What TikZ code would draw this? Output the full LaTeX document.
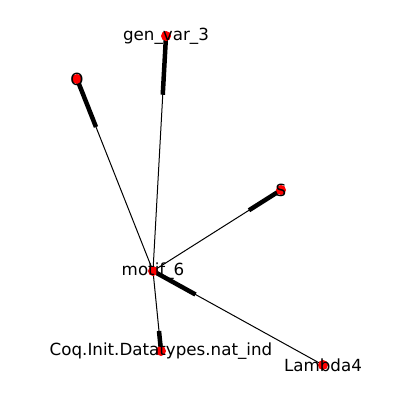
\documentclass[tikz,border=0pt]{standalone}
\usepackage{fontspec}
\setmainfont{DejaVu Sans}
\usetikzlibrary{calc,backgrounds}
\definecolor{nodered}{RGB}{255, 0, 0}

\begin{document}
\begin{tikzpicture}[x=1pt, y=-1pt,
    vert/.style={circle, fill=nodered, inner sep=0pt, minimum size=10pt},
    lbl/.style={font=\fontsize{16.7}{20}\selectfont, inner sep=0pt, anchor=center},
    edge/.style={line width=1pt},
    head/.style={line width=4.5pt}]
    \useasboundingbox (0,0) rectangle (400,400);

    % Nodes
    \node[vert] (motif) at (153,271) {};
    \node[vert] (genvar) at (166,36) {};
    \node[vert] (O) at (77,79) {};
    \node[vert] (S) at (281,190) {};
    \node[vert] (natind) at (161,351) {};
    \node[vert] (lambda) at (323,365) {};

    \begin{pgfonlayer}{background}
    % Thin edges
    \draw[edge] (motif.center) -- (genvar.center);
    \draw[edge] (motif.center) -- (O.center);
    \draw[edge] (motif.center) -- (S.center);
    \draw[edge] (motif.center) -- (natind.center);
    \draw[edge] (lambda.center) -- (motif.center);

    % Thick ends
    \draw[head] ($(motif)!0.75!(genvar)$) -- (genvar.center);
    \draw[head] ($(motif)!0.75!(O)$) -- (O.center);
    \draw[head] ($(motif)!0.75!(S)$) -- (S.center);
    \draw[head] ($(motif)!0.75!(natind)$) -- (natind.center);
    \draw[head] ($(lambda)!0.75!(motif)$) -- (motif.center);
    \end{pgfonlayer}

    % Labels
    \node[lbl] at (motif) {motif\_6};
    \node[lbl] at (genvar) {gen\_var\_3};
    \node[lbl] at (O) {O};
    \node[lbl] at (S) {S};
    \node[lbl] at (natind) {Coq.Init.Datatypes.nat\_ind};
    \node[lbl] at (lambda) {Lambda4};
\end{tikzpicture}
\end{document}
